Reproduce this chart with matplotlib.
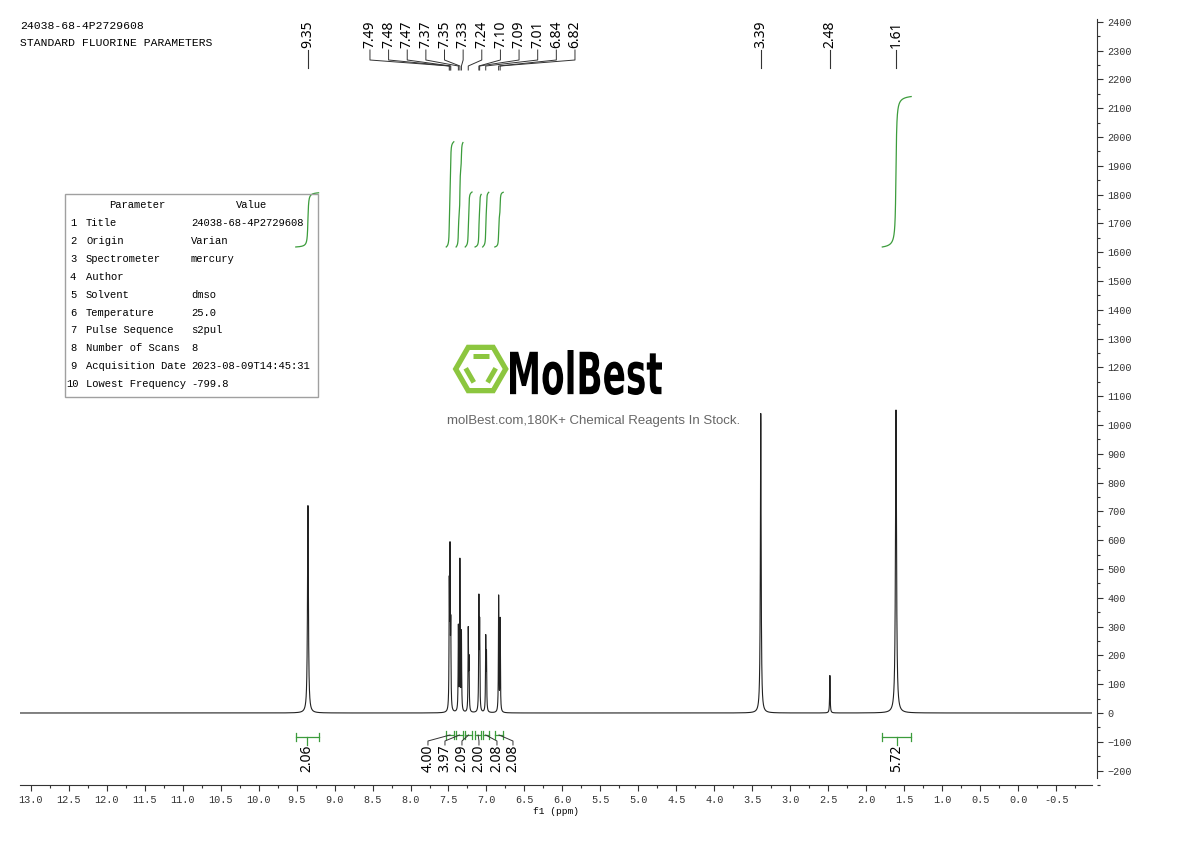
import numpy as np
import matplotlib
matplotlib.use('Agg')
import matplotlib.pyplot as plt
from matplotlib import transforms
from matplotlib.patches import Rectangle, Polygon, PathPatch
from matplotlib.textpath import TextPath
from matplotlib.font_manager import FontProperties
from matplotlib.ticker import MultipleLocator, FormatStrFormatter

W, H = 1190, 841

# peaks (ppm, height, half width)
peak_ppm = [9.35, 7.49, 7.48, 7.47, 7.37, 7.35, 7.33, 7.24, 7.23, 7.10, 7.09,
            7.01, 7.00, 6.84, 6.82, 3.39, 2.48, 1.61]
peak_height = [720, 410, 520, 270, 290, 520, 270, 280, 170, 380, 290,
               250, 190, 400, 320, 1040, 130, 1052]
peak_hwhm = [0.007, 0.0035, 0.0035, 0.0035, 0.0035, 0.0035, 0.0035, 0.0035, 0.0035, 0.0035, 0.0035,
             0.0035, 0.0035, 0.0035, 0.0035, 0.006, 0.004, 0.008]

# peak labels on top
single_labels = [9.35, 3.39, 2.48, 1.61]
group_labels = [7.49, 7.48, 7.47, 7.37, 7.35, 7.33, 7.24, 7.10, 7.09, 7.01, 6.84, 6.82]

# integrals (from, to, value)
int_single = [(9.51, 9.21, 2.06), (1.79, 1.41, 5.72)]
int_group = [(7.53, 7.43, 4.00), (7.40, 7.31, 3.97), (7.28, 7.19, 2.09),
             (7.15, 7.07, 2.00), (7.05, 6.97, 2.08), (6.89, 6.78, 2.08)]

params = ["Title", "Origin", "Spectrometer", "Author", "Solvent", "Temperature",
          "Pulse Sequence", "Number of Scans", "Acquisition Date", "Lowest Frequency"]
values = ["24038-68-4P2729608", "Varian", "mercury", "", "dmso", "25.0",
          "s2pul", "8", "2023-08-09T14:45:31", "-799.8"]


def px2ppm(px):
    return 13.0 - (px - 30.7) / 75.97


def fy(py):
    return 1 - py / H


mono = 'Liberation Mono'
sans = 'Noto Sans'

fig = plt.figure(figsize=(W / 100, H / 100), dpi=100)
ax = fig.add_axes([20 / W, fy(785), 1072 / W, 767 / H])

x = np.linspace(13.14, -0.97, 60000)
y = np.zeros_like(x)
for p, h, w in zip(peak_ppm, peak_height, peak_hwhm):
    y += h / (1 + ((x - p) / w) ** 2)
ax.plot(x, y, color='#222222', lw=0.8)

# integral curves
green = '#3c9c3c'
base, scale = 1618, 91.3
for a, b, v in int_single + int_group:
    m = (x <= a) & (x >= b)
    c = np.cumsum(y[m])
    c = c / c[-1]
    ax.plot(x[m], base + v * scale * c, color=green, lw=0.9)

ax.set_xlim(13.14, -0.97)
ax.set_ylim(-250, 2413)
ax.spines['top'].set_visible(False)
ax.spines['left'].set_visible(False)
ax.spines['right'].set_position(('outward', 3.6))
ax.spines['right'].set_bounds(-225, 2410)
ax.yaxis.tick_right()
ax.yaxis.set_major_locator(MultipleLocator(100))
ax.yaxis.set_minor_locator(MultipleLocator(50))
ax.xaxis.set_major_locator(MultipleLocator(0.5))
ax.xaxis.set_minor_locator(MultipleLocator(0.25))
ax.xaxis.set_major_formatter(FormatStrFormatter('%.1f'))
ax.tick_params(which='major', length=4, width=0.8, colors='#333333', labelsize=7.3)
ax.tick_params(which='minor', length=2, width=0.8, colors='#333333')
for lab in ax.get_xticklabels() + ax.get_yticklabels():
    lab.set_fontfamily(mono)
for s in ['bottom', 'right']:
    ax.spines[s].set_color('#333333')
fig.text(556 / W, fy(811), "f1 (ppm)", ha='center', va='center', fontsize=6.8, family=mono)

tr = transforms.blended_transform_factory(ax.transData, fig.transFigure)
lc = '#333333'

# single peak labels
for p in single_labels:
    ax.text(p, fy(48), "%.2f" % p, rotation=90, ha='center', va='bottom',
            fontsize=10, family=sans, transform=tr, clip_on=False)
    ax.plot([p, p], [fy(50), fy(68)], color=lc, lw=0.8, transform=tr, clip_on=False)

# group peak labels
lab_px = np.linspace(370, 575, len(group_labels))
for p, lp in zip(group_labels, lab_px):
    lx = px2ppm(lp)
    ax.text(lx, fy(48), "%.2f" % p, rotation=90, ha='center', va='bottom',
            fontsize=10, family=sans, transform=tr, clip_on=False)
    ax.plot([lx, lx, p, p], [fy(50), fy(60), fy(66), fy(70)], color=lc, lw=0.7,
            transform=tr, clip_on=False)


def bracket(a, b, yb):
    ax.plot([a, b], [fy(yb), fy(yb)], color=green, lw=0.9, transform=tr, clip_on=False)
    for e in (a, b):
        ax.plot([e, e], [fy(yb - 4), fy(yb + 4)], color=green, lw=0.9, transform=tr, clip_on=False)


for a, b, v in int_single:
    bracket(a, b, 737)
    c = (a + b) / 2
    ax.plot([c, c], [fy(737), fy(745)], color=green, lw=0.9, transform=tr, clip_on=False)
    ax.text(c, fy(745), "%.2f" % v, rotation=90, ha='center', va='top',
            fontsize=10, family=sans, transform=tr, clip_on=False)

int_lab_px = [428, 445, 462, 479, 497, 513]
for (a, b, v), lp in zip(int_group, int_lab_px):
    bracket(a, b, 735)
    c = (a + b) / 2
    lx = px2ppm(lp)
    ax.plot([c, lx, lx], [fy(735), fy(741), fy(745)], color=lc, lw=0.7, transform=tr, clip_on=False)
    ax.text(lx, fy(745), "%.2f" % v, rotation=90, ha='center', va='top',
            fontsize=10, family=sans, transform=tr, clip_on=False)

# header text
fig.text(20 / W, fy(26), "24038-68-4P2729608", fontsize=8.2, family=mono, va='center')
fig.text(20 / W, fy(43), "STANDARD FLUORINE PARAMETERS", fontsize=8.2, family=mono, va='center')

# parameter table
fig.patches.append(Rectangle((65 / W, fy(397)), 253 / W, 203 / H, transform=fig.transFigure,
                             facecolor='none', edgecolor='#a0a0a0', lw=1))
fig.text(137 / W, fy(205), "Parameter", fontsize=7.6, family=mono, ha='center', va='center')
fig.text(252 / W, fy(205), "Value", fontsize=7.6, family=mono, ha='center', va='center')
for i, (pa, va) in enumerate(zip(params, values)):
    yy = fy(223 + i * 17.9)
    fig.text((66 if i == 9 else 70) / W, yy, str(i + 1), fontsize=7.6, family=mono, va='center')
    fig.text(86 / W, yy, pa, fontsize=7.6, family=mono, va='center')
    fig.text(191 / W, yy, va, fontsize=7.6, family=mono, va='center')

# watermark logo
logo_green = '#8cc63f'
cx, cy, r = 480.7, 369, 25
ang = np.radians(np.arange(0, 360, 60))
hx = cx + r * np.cos(ang)
hy = cy + r * np.sin(ang)
fig.patches.append(Polygon(np.c_[hx / W, fy(hy)], closed=True, fill=False,
                           edgecolor=logo_green, lw=3.8, transform=fig.transFigure))
for k in [4, 2, 0]:
    p0 = np.array([hx[k], hy[k]])
    p1 = np.array([hx[(k + 1) % 6], hy[(k + 1) % 6]])
    mid = (p0 + p1) / 2
    inward = np.array([cx, cy]) - mid
    inward = inward / np.linalg.norm(inward) * 9
    q0 = p0 + (mid - p0) * 0.35 + inward
    q1 = p1 + (mid - p1) * 0.35 + inward
    fig.lines.append(plt.Line2D([q0[0] / W, q1[0] / W], [fy(q0[1]), fy(q1[1])], color=logo_green,
                                lw=3.6, transform=fig.transFigure, solid_capstyle='butt'))

tp = TextPath((0, 0), "MolBest", size=100, prop=FontProperties(family='DejaVu Sans', weight='bold'))
bb = tp.get_extents()
sx = 152 / bb.width
sy = 45 / bb.height
t = transforms.Affine2D().translate(-bb.x0, -bb.y0).scale(sx / W, sy / H).translate(510 / W, fy(395))
fig.patches.append(PathPatch(tp, transform=t + fig.transFigure, facecolor='black', edgecolor='none'))
fig.text(594 / W, fy(421), "molBest.com,180K+ Chemical Reagents In Stock.", ha='center', va='center',
         fontsize=9.5, family='Liberation Sans', color='#666666')

fig.savefig('out.png', dpi=100)
